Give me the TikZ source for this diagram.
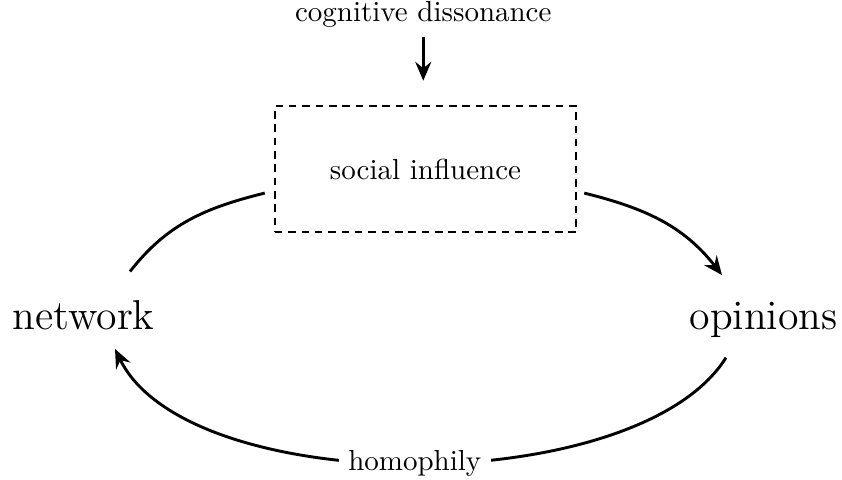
\documentclass[tikz,border=0pt]{standalone}
\usepackage{amsmath}
\usepackage{tikz}
\usetikzlibrary{arrows,arrows.meta,positioning,shapes}
\tikzset{
    %Define standard arrow tip
    >={Stealth[length=6.5pt,width=5.5pt,inset=2.2pt]},
    %Define style for the dashed box
    dbox/.style={
           rectangle,
           dash pattern=on 2.6pt off 2pt,
           draw=black, thick,
           minimum width=3.65cm,
           minimum height=1.53cm,
           text centered},
    %Define style for the big words
    bigword/.style={
           font=\Large,
           anchor=base},
    % Define arrow style
    pil/.style={
           ->,
           line width=1pt},
    lin/.style={
           line width=1pt}
}

\begin{document}
\begin{tikzpicture}
    \useasboundingbox (0,0) rectangle (10.205,5.806);

    % NODES
    \node[dbox] at (5.157,3.757) (infl) {social influence};
    \node[anchor=base] at (5.13,5.551) (diss) {cognitive dissonance};
    \node[bigword] at (1.012,1.818) (net) {network};
    \node[bigword] at (9.254,1.818) (opin) {opinions};

    % CYCLE
    \draw[pil, shorten >=8.3pt] (diss) -- (diss |- infl.north);
    \draw[lin] ([shift={(0.564,0.222)}]net.north)
        to[out=52,in=194] ([shift={(-0.109,-0.291)}]infl.west);
    \draw[pil] ([shift={(0.085,-0.291)}]infl.east)
        to[out=-14,in=128] ([shift={(-0.503,0.199)}]opin.north);
    \draw[pil] ([shift={(-0.455,-0.124)}]opin.south)
        to[out=238,in=296,looseness=0.7] node[fill=white] (homo) {homophily}
        ([shift={(0.382,-0.113)}]net.south);

\end{tikzpicture}
\end{document}
